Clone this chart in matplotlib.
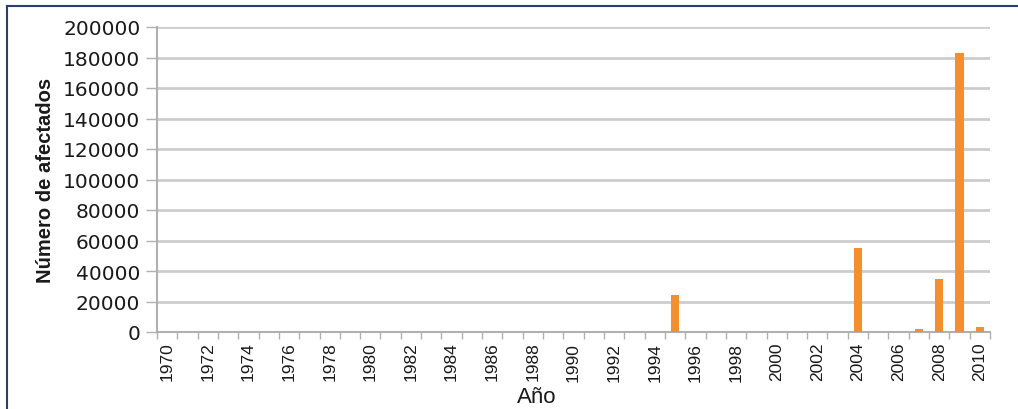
import matplotlib
matplotlib.use("Agg")
import matplotlib.pyplot as plt
from matplotlib.lines import Line2D

plt.rcParams['font.family'] = ['Liberation Sans', 'DejaVu Sans']

years = list(range(1970, 2011))
afectados_por_anio = {1995: 24000, 2004: 55000, 2007: 2000, 2008: 34500, 2009: 183000, 2010: 3000}
values = [afectados_por_anio.get(y, 0) for y in years]
y_ticks = list(range(0, 200001, 20000))

bar_color = '#f58e2c'
grid_color = '#cdcdcd'
axis_color = '#b0b0b0'
frame_color = '#2c3e6e'
text_color = '#1a1a1a'

fig = plt.figure(figsize=(10.18, 4.10), dpi=100)
ax = fig.add_axes([157 / 1018, 1 - 333 / 410, (990 - 157) / 1018, (333 - 28) / 410])

x = list(range(len(years)))
ax.bar(x, values, width=0.4, color=bar_color, zorder=3)

ax.set_xlim(-0.5, len(years) - 0.5)
ax.set_ylim(0, 200000)

ax.set_yticks(y_ticks)
ax.set_yticklabels([str(v) for v in y_ticks], fontsize=14.5, color=text_color,
                   family=['DejaVu Sans'])
ax.tick_params(axis='y', length=8, width=1, color=axis_color, pad=4)
ax.yaxis.grid(True, color=grid_color, linewidth=2, zorder=0)
ax.set_axisbelow(True)

ax.set_xticks(x[::2])
ax.set_xticklabels([str(y) for y in years[::2]], rotation=90, fontsize=12.5, color=text_color)
ax.set_xticks([i - 0.5 for i in range(len(years) + 1)], minor=True)
ax.tick_params(axis='x', which='major', length=0, pad=7)
ax.tick_params(axis='x', which='minor', length=5, width=1, color=axis_color)

for side in ('top', 'right'):
    ax.spines[side].set_visible(False)
for side in ('left', 'bottom'):
    ax.spines[side].set_color(axis_color)
    ax.spines[side].set_linewidth(1.5)

ax.set_ylabel('Número de afectados', fontsize=14.5, fontweight='bold', labelpad=6, color=text_color)
fig.text(537 / 1018, 1 - 398 / 410, 'Año', fontsize=16, ha='center', va='center', color=text_color)

# outer frame: top and left edges
fig.add_artist(Line2D([7 / 1018, 1.0], [1 - 7 / 410, 1 - 7 / 410], transform=fig.transFigure,
                      color=frame_color, linewidth=1.5))
fig.add_artist(Line2D([7 / 1018, 7 / 1018], [0.0, 1 - 7 / 410], transform=fig.transFigure,
                      color=frame_color, linewidth=1.5))

fig.savefig('out.png', dpi=100)
